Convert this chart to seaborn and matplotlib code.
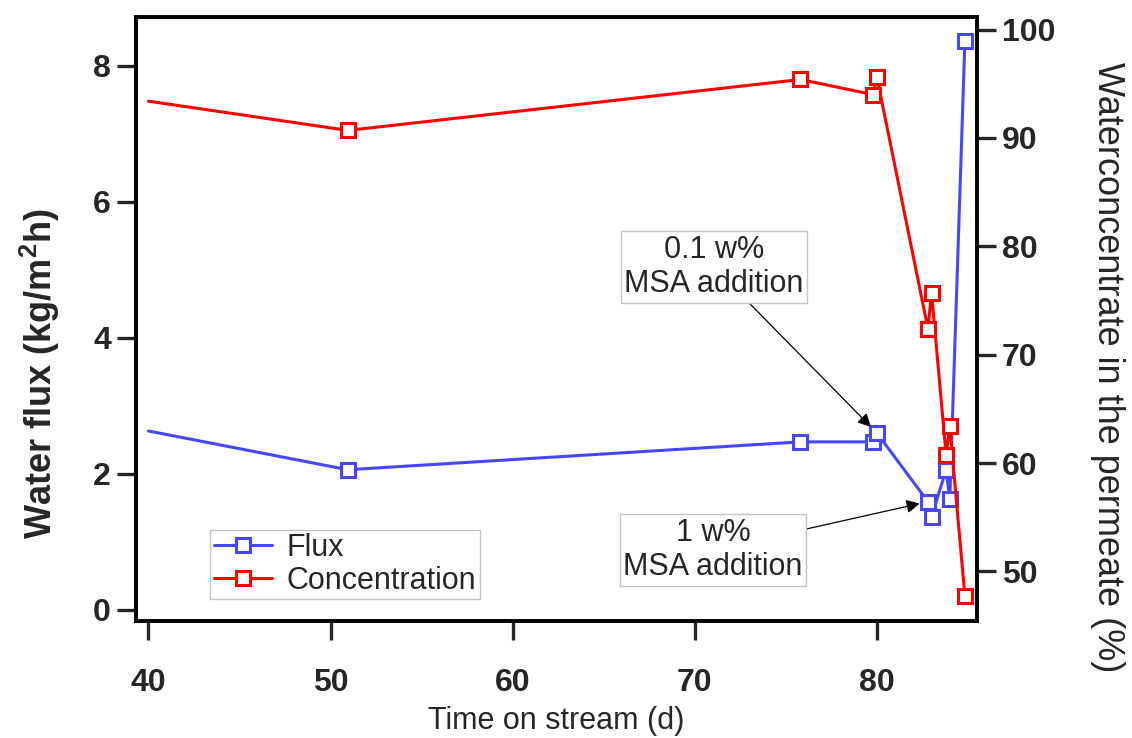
import matplotlib
matplotlib.use("Agg")
import matplotlib.pyplot as plt
from matplotlib.lines import Line2D
import seaborn as sns
import pandas as pd

# Time on stream (days)
days = [40.0, 50.95, 75.8, 79.8, 80.0, 82.8, 83.0, 83.8, 84.0, 84.83]
# Water flux (kg/m2h)
flux = [2.63, 2.06, 2.47, 2.47, 2.60, 1.59, 1.37, 2.06, 1.63, 8.36]
# Water concentration in the permeate (%)
concentration = [93.4, 90.7, 95.4, 94.0, 95.6, 72.4, 75.7, 60.7, 63.4, 47.7]

annotations = [
    ("0.1 w%\nMSA addition", 80.0, 2.60, 71.05, 5.04),
    ("1 w%\nMSA addition", 82.8, 1.59, 71.0, 0.88),
]

BLUE = "#4646ff"
RED = "#ff0000"

sns.set_style("ticks")
plt.rcParams["font.family"] = ["Liberation Sans", "DejaVu Sans"]
plt.rcParams["mathtext.default"] = "regular"

df = pd.DataFrame({"day": days, "flux": flux, "conc": concentration})

fig = plt.figure(figsize=(11.32, 7.38), dpi=100)
ax = fig.add_axes([0.120, 0.159, 0.743, 0.818])
ax2 = ax.twinx()

line_kw = dict(marker="s", markersize=9.5, markerfacecolor="white",
               markeredgewidth=2.2, linewidth=2.2, sort=False,
               estimator=None, markevery=list(range(1, len(days))))

sns.lineplot(data=df, x="day", y="flux", ax=ax, color=BLUE,
             markeredgecolor=BLUE, **line_kw)
sns.lineplot(data=df, x="day", y="conc", ax=ax2, color=RED,
             markeredgecolor=RED, **line_kw)

ax.set_xlim(39.31, 85.49)
ax.set_ylim(-0.16, 8.72)
ax2.set_ylim(45.45, 101.17)

ax.set_xticks(range(40, 81, 10))
ax.set_yticks(range(0, 9, 2))
ax2.set_yticks(range(50, 101, 10))

for a in (ax, ax2):
    for s in a.spines.values():
        s.set_visible(True)
        s.set_linewidth(2.6)
        s.set_color("black")

tick_font = dict(labelsize=23)
ax.tick_params(axis="x", direction="out", length=14, width=2.4, pad=20,
               top=False, **tick_font)
ax.tick_params(axis="y", direction="out", length=14, width=2.4, pad=4,
               right=False, **tick_font)
ax2.tick_params(axis="y", direction="out", length=14, width=2.4, pad=4,
                left=False, **tick_font)
for lbl in ax.get_xticklabels() + ax.get_yticklabels() + ax2.get_yticklabels():
    lbl.set_fontweight("bold")

ax.set_xlabel("Time on stream (d)", fontsize=22, labelpad=6)
ax.set_ylabel(r"Water flux (kg/m$^2$h)", fontsize=26, fontweight="bold",
              ha="center", va="center")
ax.yaxis.set_label_coords(-0.114, 0.41)
ax2.set_ylabel("Waterconcentrate in the permeate (%)", fontsize=26,
               rotation=270, ha="center", va="center")
ax2.yaxis.set_label_coords(1.155, 0.42)

for text, x, y, tx, ty in annotations:
    ax.annotate(text, xy=(x, y), xytext=(tx, ty), ha="center", va="center",
                fontsize=22, multialignment="center",
                bbox=dict(boxstyle="square,pad=0.12", fc="white",
                          ec="#c4c4c4", lw=1.0),
                arrowprops=dict(arrowstyle="-|>", color="black", lw=0.9,
                                mutation_scale=20, shrinkA=0, shrinkB=6))

handles = [
    Line2D([], [], color=BLUE, marker="s", markersize=9.5,
           markerfacecolor="white", markeredgecolor=BLUE,
           markeredgewidth=2.2, linewidth=2.2),
    Line2D([], [], color=RED, marker="s", markersize=9.5,
           markerfacecolor="white", markeredgecolor=RED,
           markeredgewidth=2.2, linewidth=2.2),
]
leg = ax2.legend(handles, ["Flux", "Concentration"], loc="upper left",
                 bbox_to_anchor=(0.088, 0.151), fontsize=22, frameon=True,
                 fancybox=False, shadow=False, handlelength=1.9,
                 handletextpad=0.5, labelspacing=0.08, borderpad=0.12,
                 borderaxespad=0.0)
leg.get_frame().set_edgecolor("#c4c4c4")
leg.get_frame().set_linewidth(1.0)
leg.get_frame().set_alpha(1.0)

if ax.get_legend() is not None:
    ax.get_legend().remove()

fig.savefig("out.png", dpi=100)
